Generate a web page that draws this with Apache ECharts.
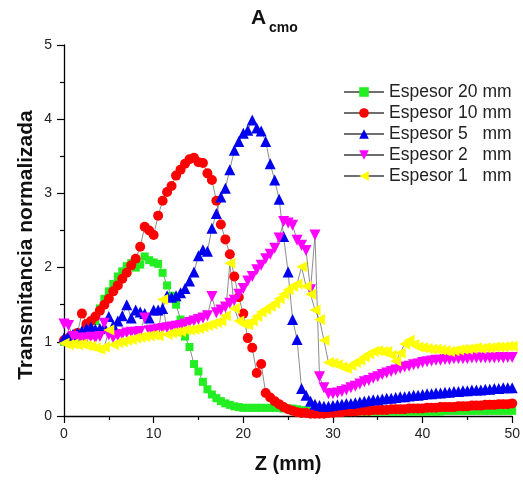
<!DOCTYPE html>
<html>
<head>
<meta charset="utf-8">
<script src="https://cdn.jsdelivr.net/npm/echarts@6/dist/echarts.min.js"></script>
<style>
    html, body { margin: 0; padding: 0; background: #fff; }
    #chart { width: 523px; height: 481px; }
</style>
</head>
<body>
<div id="chart"></div>
<script>
// posicion Z (mm)
const zValues = [
    0, 0.5, 1, 1.5, 2, 2.5, 3, 3.5, 4, 4.5,
    5, 5.5, 6, 6.5, 7, 7.5, 8, 8.5, 9, 9.5,
    10, 10.5, 11, 11.5, 12, 12.5, 13, 13.5, 14, 14.5,
    15, 15.5, 16, 16.5, 17, 17.5, 18, 18.5, 19, 19.5,
    20, 20.5, 21, 21.5, 22, 22.5, 23, 23.5, 24, 24.5,
    25, 25.5, 26, 26.5, 27, 27.5, 28, 28.5, 29, 29.5,
    30, 30.5, 31, 31.5, 32, 32.5, 33, 33.5, 34, 34.5,
    35, 35.5, 36, 36.5, 37, 37.5, 38, 38.5, 39, 39.5,
    40, 40.5, 41, 41.5, 42, 42.5, 43, 43.5, 44, 44.5,
    45, 45.5, 46, 46.5, 47, 47.5, 48, 48.5, 49, 49.5,
    50
];

const espesor20 = [
    1.00, 1.02, 1.03, 1.05, 1.07, 1.12, 1.16, 1.28, 1.45, 1.58,
    1.68, 1.78, 1.88, 1.95, 2.02, 2.06, 2.00, 2.04, 2.15, 2.10,
    2.07, 2.05, 1.93, 1.76, 1.62, 1.50, 1.30, 1.07, 0.93, 0.70,
    0.60, 0.46, 0.36, 0.29, 0.24, 0.20, 0.17, 0.15, 0.13, 0.12,
    0.11, 0.11, 0.11, 0.11, 0.11, 0.11, 0.11, 0.11, 0.11, 0.10,
    0.10, 0.10, 0.09, 0.08, 0.07, 0.06, 0.06, 0.06, 0.06, 0.06,
    0.06, 0.06, 0.06, 0.06, 0.06, 0.06, 0.06, 0.06, 0.06, 0.06,
    0.06, 0.06, 0.06, 0.06, 0.06, 0.06, 0.06, 0.06, 0.06, 0.06,
    0.06, 0.06, 0.06, 0.06, 0.06, 0.07, 0.07, 0.07, 0.07, 0.07,
    0.07, 0.07, 0.07, 0.07, 0.07, 0.07, 0.07, 0.07, 0.07, 0.07,
    0.07
];

const espesor10 = [
    1.02, 1.05, 1.08, 1.12, 1.38, 1.24, 1.28, 1.34, 1.42, 1.50,
    1.58, 1.68, 1.76, 1.85, 1.93, 2.03, 2.12, 2.28, 2.55, 2.50,
    2.44, 2.70, 2.90, 3.02, 3.10, 3.24, 3.32, 3.40, 3.46, 3.48,
    3.42, 3.41, 3.27, 3.18, 2.90, 2.58, 2.38, 2.18, 1.88, 1.60,
    1.38, 1.05, 0.92, 0.58, 0.70, 0.31, 0.25, 0.20, 0.16, 0.12,
    0.09, 0.07, 0.05, 0.04, 0.04, 0.03, 0.03, 0.03, 0.03, 0.04,
    0.04, 0.05, 0.05, 0.06, 0.06, 0.06, 0.07, 0.07, 0.07, 0.08,
    0.08, 0.08, 0.08, 0.09, 0.09, 0.09, 0.09, 0.10, 0.10, 0.10,
    0.10, 0.11, 0.11, 0.11, 0.12, 0.12, 0.12, 0.12, 0.13, 0.13,
    0.13, 0.14, 0.14, 0.14, 0.15, 0.15, 0.15, 0.16, 0.16, 0.16,
    0.17
];

const espesor5 = [
    1.05, 1.08, 1.10, 1.12, 1.15, 1.18, 1.20, 1.17, 1.18, 1.20,
    1.34, 1.22, 1.28, 1.35, 1.50, 1.32, 1.43, 1.40, 1.38, 1.32,
    1.43, 1.43, 1.45, 1.62, 1.60, 1.62, 1.66, 1.72, 1.82, 1.94,
    2.16, 2.24, 2.22, 2.53, 2.73, 2.95, 3.07, 3.32, 3.58, 3.70,
    3.81, 3.85, 3.99, 3.88, 3.84, 3.70, 3.40, 3.18, 2.92, 2.42,
    1.94, 1.30, 1.03, 0.37, 0.28, 0.20, 0.16, 0.14, 0.13, 0.13,
    0.14, 0.15, 0.16, 0.17, 0.17, 0.18, 0.19, 0.20, 0.21, 0.22,
    0.22, 0.23, 0.24, 0.24, 0.25, 0.26, 0.26, 0.27, 0.28, 0.28,
    0.29, 0.30, 0.30, 0.31, 0.31, 0.32, 0.32, 0.33, 0.33, 0.34,
    0.34, 0.35, 0.35, 0.35, 0.36, 0.36, 0.37, 0.37, 0.38, 0.38,
    0.38
];

const espesor2 = [
    1.24, 1.22, 1.07, 1.05, 1.04, 1.05, 1.06, 1.05, 1.07, 1.25,
    1.09, 1.06, 1.08, 1.10, 1.12, 1.13, 1.13, 1.14, 1.32, 1.15,
    1.16, 1.17, 1.18, 1.19, 1.20, 1.21, 1.22, 1.24, 1.26, 1.28,
    1.30, 1.32, 1.35, 1.61, 1.39, 1.43, 1.47, 1.52, 1.56, 1.64,
    1.72, 1.82, 1.88, 1.97, 2.03, 2.12, 2.18, 2.26, 2.40, 2.62,
    2.60, 2.57, 2.37, 2.30, 2.23, 1.70, 2.44, 0.53, 0.38, 0.30,
    0.30, 0.31, 0.33, 0.35, 0.38, 0.40, 0.43, 0.46, 0.48, 0.51,
    0.53, 0.56, 0.58, 0.60, 0.62, 0.64, 0.66, 0.67, 0.69, 0.70,
    0.72, 0.73, 0.74, 0.75, 0.75, 0.76, 0.76, 0.77, 0.77, 0.77,
    0.77, 0.78, 0.78, 0.78, 0.78, 0.78, 0.78, 0.79, 0.78, 0.79,
    0.79
];

const espesor1 = [
    0.98, 0.96, 0.97, 0.96, 0.97, 0.95, 0.94, 0.92, 0.90, 0.93,
    1.16, 0.96, 0.99, 1.00, 1.02, 1.03, 1.05, 1.06, 1.07, 1.08,
    1.09, 1.08, 1.57, 1.10, 1.12, 1.13, 1.14, 1.16, 1.16, 1.17,
    1.18, 1.20, 1.22, 1.24, 1.26, 1.28, 1.35, 2.06, 1.45, 1.28,
    1.24, 1.23, 1.28, 1.34, 1.40, 1.44, 1.48, 1.52, 1.58, 1.64,
    1.70, 1.75, 1.78, 2.01, 1.75, 1.64, 1.43, 1.30, 1.02, 0.72,
    0.71, 0.69, 0.66, 0.64, 0.68, 0.72, 0.75, 0.80, 0.84, 0.87,
    0.88, 0.87, 0.87, 0.82, 0.74, 0.85, 0.97, 1.02, 0.96, 0.93,
    0.92, 0.91, 0.90, 0.90, 0.89, 0.88, 0.87, 0.88, 0.89, 0.90,
    0.90, 0.91, 0.92, 0.91, 0.92, 0.92, 0.93, 0.93, 0.93, 0.94,
    0.94
];

const seriesNames = ['Espesor 20 mm', 'Espesor 10 mm', 'Espesor 5   mm', 'Espesor 2   mm', 'Espesor 1   mm'];

const FONT = '"Liberation Sans", Arial, sans-serif';

function pairs(ys) {
    return zValues.map((z, i) => [z, ys[i]]);
}

function makeSeries(name, ys, symbol, color, size, rotate) {
    return {
        name: name,
        type: 'line',
        data: pairs(ys),
        symbol: symbol,
        symbolSize: size,
        symbolRotate: rotate,
        showAllSymbol: true,
        lineStyle: { color: '#6e6e6e', width: 0.8 },
        itemStyle: { color: color, borderWidth: 0 },
        emphasis: { disabled: true },
        animation: false
    };
}

const myEcharts = echarts.init(document.getElementById('chart'), null, { renderer: 'canvas' });

const axisCommon = {
    axisLine: { show: true, onZero: false, lineStyle: { color: '#000', width: 1.3 } },
    axisTick: { show: true, inside: false, length: 7, lineStyle: { color: '#000', width: 1.2 } },
    minorTick: { show: true, splitNumber: 2, length: 4, lineStyle: { color: '#000', width: 1.2 } },
    splitLine: { show: false },
    axisLabel: { color: '#222', fontSize: 14, fontFamily: FONT }
};

const option = {
    backgroundColor: '#fff',
    grid: { left: 64, right: 7, top: 45, bottom: 65, containLabel: false },
    legend: {
        orient: 'vertical',
        left: 343,
        top: 83,
        padding: 0,
        itemWidth: 40,
        itemHeight: 12,
        itemGap: 3,
        data: seriesNames,
        textStyle: { color: '#222', fontSize: 17.5, fontFamily: FONT },
        selectedMode: false
    },
    xAxis: Object.assign({}, axisCommon, {
        type: 'value',
        min: 0,
        max: 50,
        interval: 10,
        name: 'Z (mm)',
        nameLocation: 'middle',
        nameGap: 38,
        nameTextStyle: { fontSize: 20, fontWeight: 'bold', color: '#111', fontFamily: FONT },
        axisLabel: { color: '#222', fontSize: 14, fontFamily: FONT, margin: 11 }
    }),
    yAxis: Object.assign({}, axisCommon, {
        type: 'value',
        min: 0,
        max: 5,
        interval: 1,
        axisLabel: { color: '#222', fontSize: 14, fontFamily: FONT, margin: 12 }
    }),
    graphic: [
        {
            type: 'text',
            left: 251,
            top: 8,
            style: { text: 'A', font: 'bold 21px ' + FONT, fill: '#111' }
        },
        {
            type: 'text',
            left: 269,
            top: 21,
            style: { text: 'cmo', font: 'bold 14px ' + FONT, fill: '#111' }
        },
        {
            type: 'text',
            x: 26,
            y: 245,
            rotation: Math.PI / 2,
            style: {
                text: 'Transmitancia normalizada',
                font: 'bold 21px ' + FONT,
                fill: '#111',
                align: 'center',
                verticalAlign: 'middle'
            }
        }
    ],
    series: [
        makeSeries(seriesNames[0], espesor20, 'rect', '#22ee22', 8, 0),
        makeSeries(seriesNames[1], espesor10, 'circle', '#ff0000', 10, 0),
        makeSeries(seriesNames[2], espesor5, 'triangle', '#0000ee', 11, 0),
        makeSeries(seriesNames[3], espesor2, 'triangle', '#ff00ff', 11, 180),
        makeSeries(seriesNames[4], espesor1, 'triangle', '#ffff00', 11, 90)
    ]
};

myEcharts.setOption(option);
</script>
</body>
</html>
